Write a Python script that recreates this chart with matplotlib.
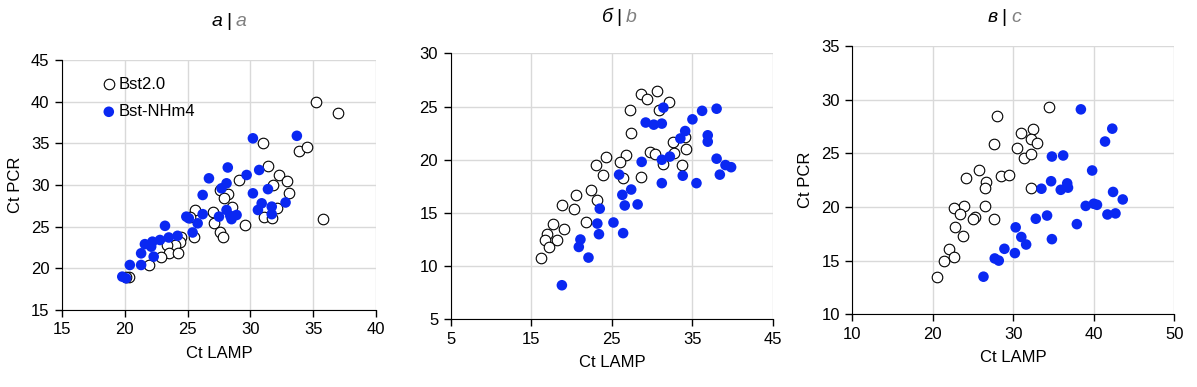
import matplotlib.pyplot as plt

# panel a (а)
a_bst_x = [35.2, 37.0, 31.0, 33.9, 34.5, 31.4, 32.3, 32.9, 31.8, 33.1, 29.1, 27.6, 28.2, 27.9,
           28.5, 32.1, 31.1, 31.7, 35.8, 27.0, 27.1, 29.6, 25.6, 25.2, 27.6, 27.8, 25.5, 24.5,
           24.4, 24.0, 23.4, 23.5, 24.2, 22.9, 21.9, 20.3, 20.1]
a_bst_y = [39.9, 38.6, 35.0, 34.1, 34.5, 32.3, 31.2, 30.5, 30.0, 29.0, 30.6, 29.4, 28.9, 28.4,
           27.4, 27.2, 26.2, 26.0, 25.9, 26.8, 25.4, 25.2, 27.0, 26.2, 24.4, 23.8, 23.7, 23.8,
           23.2, 22.8, 22.8, 21.8, 21.8, 21.4, 20.4, 19.0, 18.9]
a_nh_x = [30.2, 33.7, 28.2, 30.7, 29.7, 26.7, 28.1, 31.4, 27.7, 26.2, 30.2, 30.9, 32.8, 30.6,
          31.7, 31.7, 28.1, 28.9, 28.4, 28.5, 27.5, 26.2, 24.9, 25.1, 25.8, 25.4, 23.2, 24.2,
          23.5, 22.8, 22.2, 21.6, 22.1, 21.3, 22.3, 20.4, 21.3, 19.8, 20.1]
a_nh_y = [35.6, 35.9, 32.1, 31.8, 31.2, 30.8, 30.2, 29.5, 29.6, 28.8, 29.0, 27.8, 27.9, 27.0,
          27.4, 26.5, 27.0, 26.4, 26.3, 25.9, 26.2, 26.5, 26.2, 26.0, 25.4, 24.3, 25.1, 23.9,
          23.7, 23.4, 23.2, 22.9, 22.6, 21.8, 21.4, 20.4, 20.4, 19.0, 18.8]

# panel b (б)
b_bst_x = [30.6, 28.6, 29.4, 32.1, 30.8, 27.2, 27.4, 32.6, 34.1, 34.2, 29.7, 30.4, 32.7, 31.3,
           33.7, 26.8, 26.0, 26.4, 28.6, 24.3, 23.0, 23.9, 22.4, 23.1, 20.6, 18.8, 20.3, 21.8,
           17.7, 19.1, 16.9, 16.7, 18.2, 17.2, 16.2]
b_bst_y = [26.5, 26.2, 25.7, 25.4, 24.7, 24.7, 22.5, 21.7, 22.1, 21.0, 20.7, 20.5, 20.6, 19.6,
           19.5, 20.4, 19.8, 18.3, 18.4, 20.3, 19.5, 18.6, 17.2, 16.2, 16.7, 15.7, 15.4, 14.1,
           14.0, 13.5, 13.0, 12.5, 12.5, 11.8, 10.8]
b_nh_x = [31.4, 36.2, 38.0, 35.0, 29.2, 30.2, 31.2, 34.1, 33.5, 36.9, 36.9, 32.2, 31.2, 38.0,
          39.1, 39.8, 28.7, 25.9, 33.8, 38.4, 31.2, 35.5, 27.4, 26.3, 26.6, 28.2, 23.5, 23.2,
          25.2, 23.4, 26.4, 21.1, 20.9, 22.1, 18.8]
b_nh_y = [24.9, 24.6, 24.8, 23.8, 23.5, 23.3, 23.4, 22.7, 22.0, 22.3, 21.7, 20.3, 20.0, 20.1,
          19.5, 19.3, 19.8, 18.6, 18.5, 18.6, 17.8, 17.8, 17.2, 16.7, 15.7, 15.8, 15.4, 14.0,
          14.1, 13.0, 13.1, 12.5, 11.8, 10.8, 8.2]

# panel c (в)
c_bst_x = [34.5, 28.0, 32.4, 30.9, 32.2, 32.9, 27.6, 30.5, 31.3, 32.2, 25.8, 24.1, 28.5, 29.5,
           26.6, 26.5, 32.2, 23.9, 26.5, 22.6, 23.4, 25.3, 25.0, 27.6, 22.8, 23.8, 22.0, 21.4,
           22.7, 20.5]
c_bst_y = [29.3, 28.5, 27.3, 26.9, 26.3, 26.0, 25.9, 25.5, 24.6, 24.9, 23.4, 22.7, 22.9, 23.0,
           22.3, 21.8, 21.8, 20.1, 20.1, 19.9, 19.3, 19.1, 18.9, 18.9, 18.1, 17.3, 16.1, 15.0,
           15.3, 13.5]
c_nh_x = [38.4, 42.3, 41.4, 34.8, 36.2, 39.8, 34.7, 33.5, 36.7, 35.9, 36.8, 42.4, 43.6, 39.0,
          40.0, 40.4, 41.7, 42.7, 32.8, 34.2, 37.9, 30.3, 31.0, 31.6, 34.8, 28.9, 30.2, 27.7,
          28.2, 26.3]
c_nh_y = [29.1, 27.3, 26.1, 24.7, 24.8, 23.4, 22.4, 21.7, 22.2, 21.6, 21.8, 21.4, 20.7, 20.1,
          20.3, 20.2, 19.3, 19.4, 18.9, 19.2, 18.4, 18.1, 17.2, 16.5, 17.0, 16.1, 15.7, 15.2,
          15.0, 13.5]

titles = [("а", "a"), ("б", "b"), ("в", "c")]
xlims = [(15, 40), (5, 45), (10, 50)]
ylims = [(15, 45), (5, 30), (10, 35)]
xticks = [[15, 20, 25, 30, 35, 40], [5, 15, 25, 35, 45], [10, 20, 30, 40, 50]]
yticks = [[15, 20, 25, 30, 35, 40, 45], [5, 10, 15, 20, 25, 30], [10, 15, 20, 25, 30, 35]]
ylabels = ["Ct PCR", "", "Ct PCR"]

plt.rcParams["font.family"] = ["Liberation Sans", "DejaVu Sans"]
plt.rcParams["font.size"] = 12

BLUE = "#0a28f2"
GRID = "#d9d9d9"

fig = plt.figure(figsize=(11.97, 3.87), dpi=100)
boxes = [[0.0518, 0.199, 0.2623, 0.646],
         [0.3765, 0.175, 0.2693, 0.687],
         [0.7120, 0.188, 0.2690, 0.693]]
data = [(a_bst_x, a_bst_y, a_nh_x, a_nh_y),
        (b_bst_x, b_bst_y, b_nh_x, b_nh_y),
        (c_bst_x, c_bst_y, c_nh_x, c_nh_y)]
title_y = [0.945, 0.955, 0.955]
title_dx = [0.008, 0.006, -0.008]

for i, box in enumerate(boxes):
    ax = fig.add_axes(box)
    bx, by, nx, ny = data[i]
    ax.scatter(bx, by, s=58, facecolors="white", edgecolors="black", linewidths=0.8,
               zorder=3, label="Bst2.0", clip_on=False)
    ax.scatter(nx, ny, s=58, color=BLUE, edgecolors="none", zorder=3, label="Bst-NHm4",
               clip_on=False)
    ax.set_xlim(*xlims[i])
    ax.set_ylim(*ylims[i])
    ax.set_xticks(xticks[i])
    ax.set_yticks(yticks[i])
    ax.grid(True, color=GRID, lw=1)
    ax.set_axisbelow(True)
    for s in ["top", "right"]:
        ax.spines[s].set_visible(False)
    ax.tick_params(direction="out", length=5, width=1, labelsize=12, pad=4)
    ax.set_xlabel("Ct LAMP", fontsize=12, labelpad=6)
    if ylabels[i]:
        ax.set_ylabel(ylabels[i], fontsize=12, labelpad=6)
    if i == 0:
        ax.legend(loc="upper left", frameon=False, fontsize=12, handletextpad=0.0,
                  handlelength=1.2, borderaxespad=0.3, labelspacing=0.75,
                  bbox_to_anchor=(0.08, 0.98))

    # title: cyrillic letter | latin letter
    xc = box[0] + box[2] / 2 + title_dx[i]
    fig.text(xc - 0.005, title_y[i], titles[i][0], ha="right", va="center",
             fontsize=14, style="italic", color="black")
    fig.text(xc, title_y[i], "|", ha="center", va="center", fontsize=14, color="black")
    fig.text(xc + 0.006, title_y[i], titles[i][1], ha="left", va="center",
             fontsize=14, style="italic", color="#808080")

fig.savefig("out.png", dpi=100)
